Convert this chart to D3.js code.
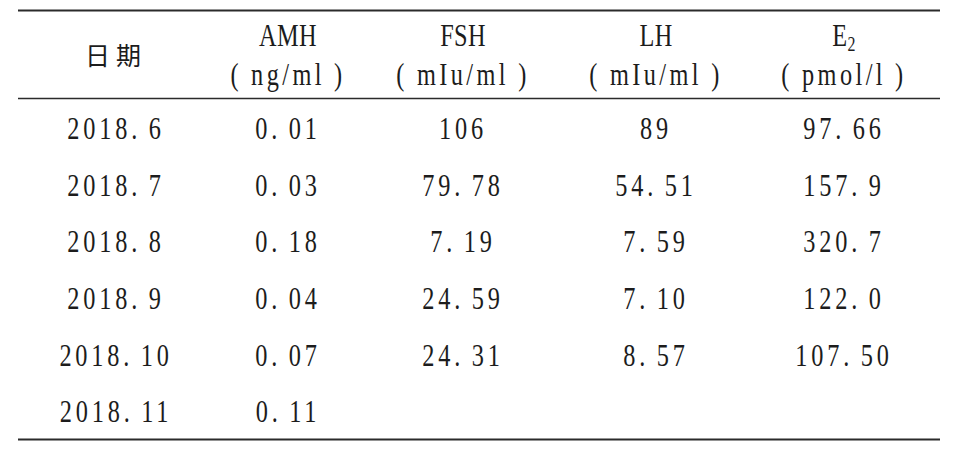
<!DOCTYPE html>
<html>
<head>
<meta charset="utf-8">
<script src="https://cdn.jsdelivr.net/npm/d3@7/dist/d3.min.js"></script>
<style>
body { margin: 0; background: #fff; }
</style>
</head>
<body>
<div id="container"></div>
<script>
const columns = ["date", "amh", "fsh", "lh", "e2"];
const headNames = ["日期", "AMH", "FSH", "LH", "E"];
const headUnits = [null, "ng/ml", "mIu/ml", "mIu/ml", "pmol/l"];
const dates = ["2018.6", "2018.7", "2018.8", "2018.9", "2018.10", "2018.11"];
const amh = ["0.01", "0.03", "0.18", "0.04", "0.07", "0.11"];
const fsh = ["106", "79.78", "7.19", "24.59", "24.31", null];
const lh = ["89", "54.51", "7.59", "7.10", "8.57", null];
const e2 = ["97.66", "157.9", "320.7", "122.0", "107.50", null];

const w = 957;
const h = 449;
const ink = "#1c1c1c";
const sx = 0.76;

const table = [dates, amh, fsh, lh, e2];

const xScale = d3.scaleOrdinal()
    .domain(columns)
    .range([116, 288, 463, 656, 844]);

const yScale = d3.scalePoint()
    .domain(d3.range(dates.length))
    .range([128, 411]);

let svg = d3.select("#container")
    .append("svg")
    .attr("width", w)
    .attr("height", h);

// rules
svg.append("line").attr("x1", 18).attr("x2", 940).attr("y1", 10.5).attr("y2", 10.5)
    .attr("stroke", "#2b2b2b").attr("stroke-width", 2.2);
svg.append("line").attr("x1", 18).attr("x2", 940).attr("y1", 98.5).attr("y2", 98.5)
    .attr("stroke", "#2b2b2b").attr("stroke-width", 1.6);
svg.append("line").attr("x1", 18).attr("x2", 940).attr("y1", 439.5).attr("y2", 439.5)
    .attr("stroke", "#2b2b2b").attr("stroke-width", 2.2);

function latin(g, x, y, ls) {
    return g.append("text")
        .attr("transform", "translate(" + x + "," + y + ") scale(" + sx + ",1)")
        .attr("text-anchor", "middle")
        .attr("dominant-baseline", "central")
        .attr("font-family", "'Liberation Serif', serif")
        .attr("font-size", 32)
        .attr("letter-spacing", ls)
        .attr("fill", ink);
}

// header
const head = svg.append("g").attr("id", "header");
columns.forEach((c, i) => {
    if (i == 0) {
        head.append("text")
            .attr("x", xScale(c))
            .attr("y", 54)
            .attr("text-anchor", "middle")
            .attr("dominant-baseline", "central")
            .attr("font-family", "'Noto Sans CJK SC', sans-serif")
            .attr("font-size", 25)
            .attr("letter-spacing", 6)
            .attr("fill", ink)
            .text(headNames[i]);
        return;
    }
    let t = latin(head, xScale(c), 35, 0.5);
    t.append("tspan").text(headNames[i]);
    if (c == "e2") {
        t.append("tspan").attr("font-size", 21).attr("dy", 8).text("2");
    }
    let u = latin(head, xScale(c), 74, 4.5);
    u.append("tspan").text("(");
    u.append("tspan").attr("dx", 12).text(headUnits[i]);
    u.append("tspan").attr("dx", 12).text(")");
});

// body
const body = svg.append("g").attr("id", "body");
columns.forEach((c, i) => {
    table[i].forEach((v, r) => {
        if (v == null) return;
        let t = latin(body, xScale(c), yScale(r), 5);
        const parts = v.split(".");
        t.append("tspan").text(parts[0]);
        if (parts.length > 1) {
            t.append("tspan").text(".");
            t.append("tspan").attr("dx", 10).text(parts[1]);
        }
    });
});
</script>
</body>
</html>
